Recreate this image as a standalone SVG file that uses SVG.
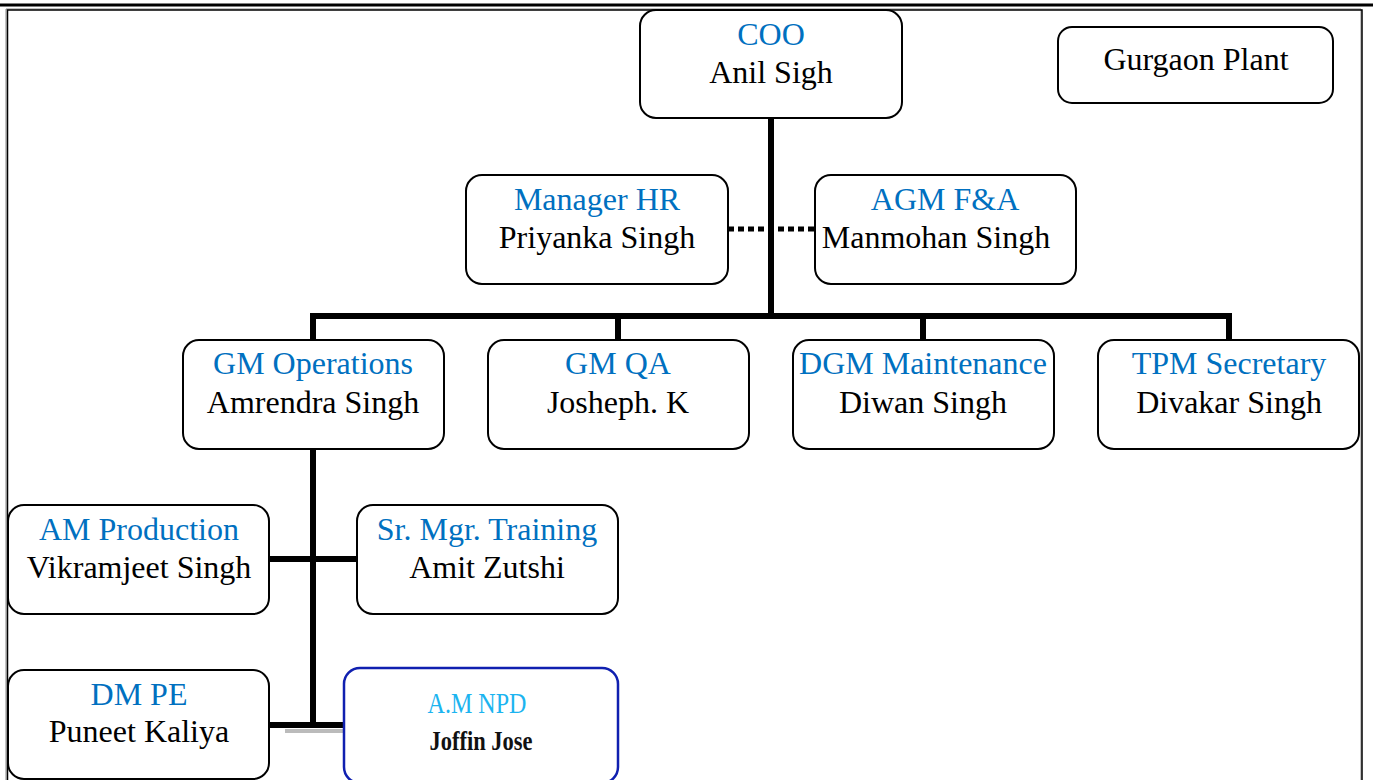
<svg xmlns="http://www.w3.org/2000/svg" width="1373" height="780" viewBox="0 0 1373 780">
<style>
.box{fill:#fff;stroke:#000;stroke-width:2}
.t{font-family:"Liberation Serif","Times New Roman",serif;font-size:32px;text-anchor:middle}
.role{fill:#0070C0}
.name{fill:#000}
.con{stroke:#000;stroke-width:6;fill:none}
</style>
<rect width="1373" height="780" fill="#fff"/>
<g id="page-border">
<line x1="0" y1="5" x2="1373" y2="5" stroke="#000" stroke-width="3"/>
<polyline points="6,780 6,9 1361,9 1361,780" fill="none" stroke="#888" stroke-width="1"/>
<polyline points="7.5,780 7.5,10 1362,10 1362,780" fill="none" stroke="#000" stroke-width="1.5"/>
</g>
<g id="connectors">
<line class="con" x1="771" y1="118" x2="771" y2="316"/>
<line x1="728" y1="229" x2="815" y2="229" stroke="#000" stroke-width="5" stroke-dasharray="6 4"/>
<polyline class="con" points="313,341 313,316 1229,316 1229,341"/>
<line class="con" x1="618" y1="316" x2="618" y2="341"/>
<line class="con" x1="923" y1="316" x2="923" y2="341"/>
<line class="con" x1="313" y1="449" x2="313" y2="728"/>
<line class="con" x1="269" y1="559" x2="357" y2="559"/>
<line x1="285" y1="731" x2="344" y2="731" stroke="#bbb" stroke-width="4"/>
<line class="con" x1="269" y1="725" x2="344" y2="725"/>
</g>
<g id="coo"><rect class="box" x="640" y="10" width="262" height="108" rx="16"/>
<text class="t role" x="771" y="45">COO</text><text class="t name" x="771" y="83">Anil Sigh</text></g>
<g id="gurgaon"><rect class="box" x="1058" y="27" width="275" height="76" rx="14"/>
<text class="t name" x="1196" y="70">Gurgaon Plant</text></g>
<g id="manager-hr"><rect class="box" x="466" y="175" width="262" height="109" rx="16"/>
<text class="t role" x="597" y="210">Manager HR</text><text class="t name" x="597" y="248">Priyanka Singh</text></g>
<g id="agm-fa"><rect class="box" x="815" y="175" width="261" height="109" rx="16"/>
<text class="t role" x="945" y="210">AGM F&amp;A</text><text class="t name" x="936" y="248">Manmohan Singh</text></g>
<g id="gm-operations"><rect class="box" x="183" y="340" width="261" height="109" rx="16"/>
<text class="t role" x="313" y="374">GM Operations</text><text class="t name" x="313" y="413">Amrendra Singh</text></g>
<g id="gm-qa"><rect class="box" x="488" y="340" width="261" height="109" rx="16"/>
<text class="t role" x="618" y="374">GM QA</text><text class="t name" x="618" y="413">Josheph. K</text></g>
<g id="dgm-maintenance"><rect class="box" x="793" y="340" width="261" height="109" rx="16"/>
<text class="t role" x="923" y="374">DGM Maintenance</text><text class="t name" x="923" y="413">Diwan Singh</text></g>
<g id="tpm-secretary"><rect class="box" x="1098" y="340" width="261" height="109" rx="16"/>
<text class="t role" x="1229" y="374">TPM Secretary</text><text class="t name" x="1229" y="413">Divakar Singh</text></g>
<g id="am-production"><rect class="box" x="8" y="505" width="261" height="109" rx="16"/>
<text class="t role" x="139" y="540">AM Production</text><text class="t name" x="139" y="578">Vikramjeet Singh</text></g>
<g id="sr-mgr-training"><rect class="box" x="357" y="505" width="261" height="109" rx="16"/>
<text class="t role" x="487" y="540">Sr. Mgr. Training</text><text class="t name" x="487" y="578">Amit Zutshi</text></g>
<g id="dm-pe"><rect class="box" x="8" y="670" width="261" height="109" rx="16"/>
<text class="t role" x="139" y="705">DM PE</text><text class="t name" x="139" y="742">Puneet Kaliya</text></g>
<g id="am-npd"><rect x="344" y="668" width="274" height="115" rx="16" fill="#fff" stroke="#1020B0" stroke-width="2.5"/>
<text x="477" y="713" font-family="'Liberation Serif',serif" font-size="29" text-anchor="middle" fill="#1CB4F0" textLength="99" lengthAdjust="spacingAndGlyphs">A.M NPD</text>
<text x="481" y="750" font-family="'Liberation Serif',serif" font-size="28" font-weight="bold" text-anchor="middle" fill="#111" textLength="103" lengthAdjust="spacingAndGlyphs">Joffin Jose</text></g>
</svg>
